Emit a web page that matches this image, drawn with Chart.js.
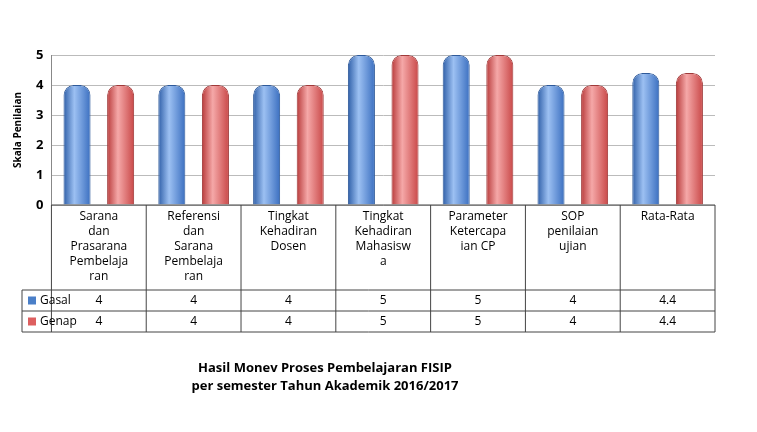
<!DOCTYPE html>
<html><head><meta charset="utf-8">
<script src="https://cdn.jsdelivr.net/npm/chart.js@4.4.1/dist/chart.umd.min.js"></script>
<style>html,body{margin:0;background:#fff}#w{width:757px;height:432px}</style>
</head><body><div id="w"><canvas id="c"></canvas></div>
<script>
const categories=[["Sarana","dan","Prasarana","Pembelaja","ran"],["Referensi","dan","Sarana","Pembelaja","ran"],["Tingkat","Kehadiran","Dosen"],["Tingkat","Kehadiran","Mahasisw","a"],["Parameter","Ketercapa","ian CP"],["SOP","penilaian","ujian"],["Rata-Rata"]];
const gasal=[4,4,4,5,5,4,4.4];
const genap=[4,4,4,5,5,4,4.4];
const seriesNames=["Gasal","Genap"];
const yTicks=[0,1,2,3,4,5];
const titleLines=["Hasil Monev Proses Pembelajaran FISIP","per semester Tahun Akademik 2016/2017"];

function barFill(c,solid,dark,mid,light){
  const ch=c.chart,x=ch.scales&&ch.scales.x;
  if(!ch.chartArea||!x||c.dataIndex===undefined)return solid;
  const px=x.getPixelForValue(c.dataIndex),step=x.getPixelForValue(1)-x.getPixelForValue(0);
  if(!isFinite(px)||!isFinite(step))return solid;
  const cw=step*0.92,bw=cw/2*0.62,cx=px+(c.datasetIndex===0?-1:1)*cw/4;
  const g=ch.ctx.createLinearGradient(cx-bw/2,0,cx+bw/2,0);
  g.addColorStop(0,dark);g.addColorStop(0.4,light);g.addColorStop(1,mid);return g;
}
const tablePlugin={id:'table',afterDraw(chart){
  const ctx=chart.ctx,x=chart.scales.x,a=chart.chartArea;
  const L=22,R=a.right,top=a.bottom,catB=top+85,r1=catB+21,r2=r1+21;
  ctx.save();ctx.strokeStyle='#444';ctx.lineWidth=1;
  const step=x.getPixelForValue(1)-x.getPixelForValue(0);
  ctx.beginPath();
  ctx.moveTo(a.left,top);ctx.lineTo(R,top);
  ctx.moveTo(L,catB);ctx.lineTo(R,catB);ctx.moveTo(L,r1);ctx.lineTo(R,r1);ctx.moveTo(L,r2);ctx.lineTo(R,r2);
  ctx.moveTo(L,catB);ctx.lineTo(L,r2);
  for(let i=0;i<=categories.length;i++){const px=x.getPixelForValue(i)-step/2;ctx.moveTo(px,top);ctx.lineTo(px,r2);}
  ctx.stroke();
  ctx.fillStyle='#000';ctx.font='12px "Open Sans", sans-serif';ctx.textAlign='center';ctx.textBaseline='top';
  categories.forEach((c,i)=>{const px=x.getPixelForValue(i);c.forEach((t,j)=>ctx.fillText(t,px,top+6+j*15));});
  ctx.textBaseline='middle';
  [gasal,genap].forEach((r,k)=>{const cy=catB+10.5+k*21;r.forEach((v,i)=>ctx.fillText(String(v),x.getPixelForValue(i),cy));});
  const cols=['#4a7fc8','#dd5f5f'];
  seriesNames.forEach((n,k)=>{const cy=catB+10.5+k*21;ctx.fillStyle=cols[k];ctx.fillRect(L+6,cy-4,8,8);ctx.fillStyle='#000';ctx.textAlign='left';ctx.fillText(n,L+18,cy);});
  ctx.textAlign='center';ctx.font='bold 13px "Open Sans", sans-serif';
  titleLines.forEach((t,j)=>ctx.fillText(t,325,368+j*18));
  ctx.restore();
}};
const ctx=document.getElementById('c').getContext('2d');
new Chart(ctx,{type:'bar',
 data:{labels:categories.map(c=>c.join(' ')),datasets:[
  {label:seriesNames[0],data:gasal,backgroundColor:c=>barFill(c,'#4a7fc8','#2f5fa8','#3b6fc0','#9cc0f2'),borderColor:'#2f5a9a',borderWidth:1,borderRadius:{topLeft:10,topRight:10},borderSkipped:'bottom'},
  {label:seriesNames[1],data:genap,backgroundColor:c=>barFill(c,'#dd5f5f','#b83a3a','#c94848','#f5a8a8'),borderColor:'#a03a3a',borderWidth:1,borderRadius:{topLeft:10,topRight:10},borderSkipped:'bottom'}]},
 options:{responsive:true,maintainAspectRatio:false,animation:false,
  layout:{padding:{top:55,bottom:227,left:8,right:42}},
  plugins:{legend:{display:false},tooltip:{enabled:false}},
  datasets:{bar:{barPercentage:0.62,categoryPercentage:0.92}},
  scales:{x:{display:false},
   y:{min:0,max:5,afterBuildTicks:s=>{s.ticks=yTicks.map(v=>({value:v}));},
    ticks:{color:'#000',font:{size:13,weight:'bold',family:'"Open Sans", sans-serif'},padding:8},
    grid:{color:'#bbb',drawTicks:false},border:{color:'#888'},
    title:{display:true,text:'Skala Penilaian',color:'#000',font:{size:10,weight:'bold',family:'"Open Sans", sans-serif'}}}}},
 plugins:[tablePlugin]});
</script></body></html>
